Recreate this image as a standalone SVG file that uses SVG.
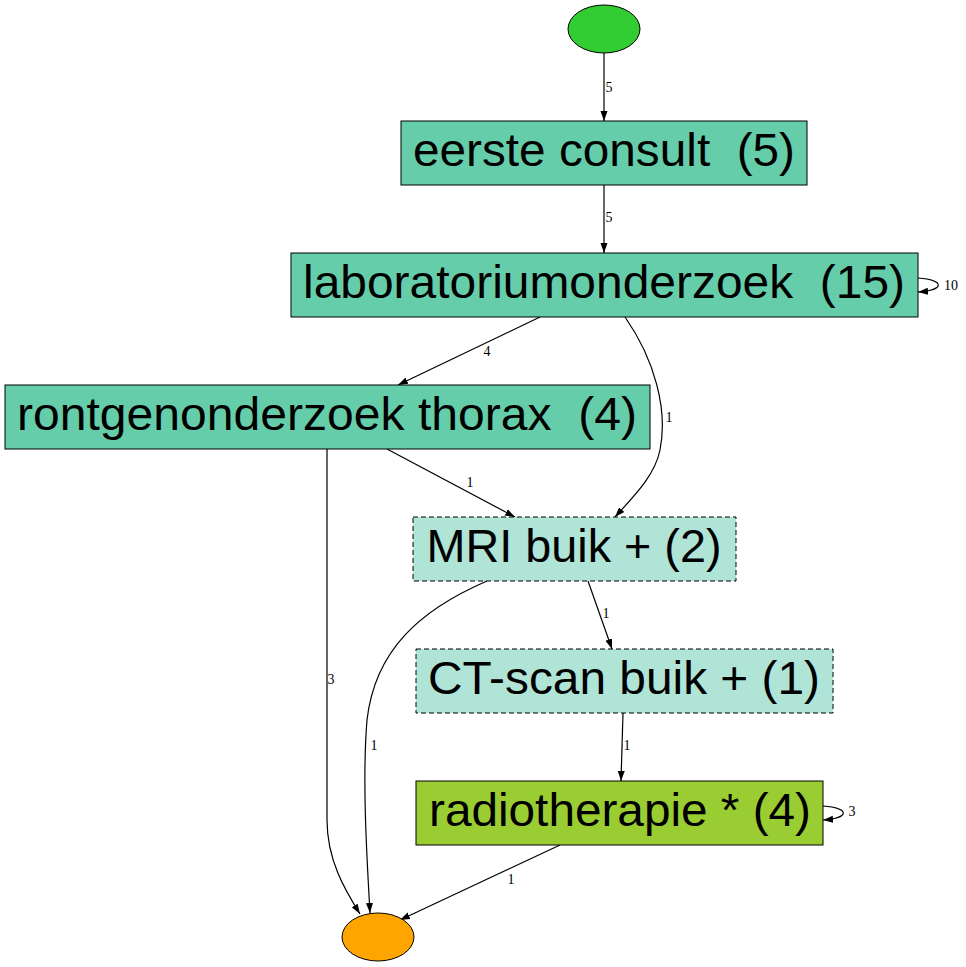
<svg xmlns="http://www.w3.org/2000/svg" width="966" height="967" viewBox="0 0 966 967">
<style>
.box{stroke:#000;stroke-width:1}
.t{font-family:"Liberation Sans",Arial,sans-serif;font-size:47px;fill:#000;text-anchor:middle;white-space:pre}
.l{font-family:"Liberation Serif","Times New Roman",serif;font-size:14px;fill:#000;text-anchor:middle}
.e{fill:none;stroke:#000;stroke-width:1.2}
.dash{stroke-dasharray:5,3}
</style>
<defs>
<marker id="a" viewBox="0 0 10 10" refX="10" refY="5" markerWidth="10" markerHeight="10" markerUnits="userSpaceOnUse" orient="auto">
<path d="M0,1.5 L10,5 L0,8.5 Z" fill="#000"/>
</marker>
</defs>
<rect width="966" height="967" fill="#fff"/>
<g id="connectors">
<path class="e" d="M604,53 L604,121" marker-end="url(#a)"/>
<text class="l" x="609" y="92">5</text>
<path class="e" d="M604,185 L604,253" marker-end="url(#a)"/>
<text class="l" x="609" y="222">5</text>
<path class="e" d="M918,278 C945,280 945,290 918,292" marker-end="url(#a)"/>
<text class="l" x="951" y="290">10</text>
<path class="e" d="M540,317 L398,385" marker-end="url(#a)"/>
<text class="l" x="487" y="356">4</text>
<path class="e" d="M625,317 C655,360 668,410 660,450 C655,475 635,495 615,517" marker-end="url(#a)"/>
<text class="l" x="669" y="422">1</text>
<path class="e" d="M387,449 L515,517" marker-end="url(#a)"/>
<text class="l" x="470" y="487">1</text>
<path class="e" d="M327,449 L327,820 C327,860 345,890 360,914" marker-end="url(#a)"/>
<text class="l" x="331" y="684">3</text>
<path class="e" d="M487,581 C420,610 375,650 367,720 C362,780 367,860 370,913" marker-end="url(#a)"/>
<text class="l" x="374" y="750">1</text>
<path class="e" d="M588,581 L612,649" marker-end="url(#a)"/>
<text class="l" x="606" y="618">1</text>
<path class="e" d="M623,713 L621,781" marker-end="url(#a)"/>
<text class="l" x="627" y="750">1</text>
<path class="e" d="M823,806 C850,808 850,818 823,820" marker-end="url(#a)"/>
<text class="l" x="852" y="816">3</text>
<path class="e" d="M560,845 L400,920" marker-end="url(#a)"/>
<text class="l" x="511" y="884">1</text>
</g>
<g id="start"><ellipse class="box" cx="604" cy="29" rx="36" ry="24" fill="#32cd32"/></g>
<g id="eerste"><rect class="box" x="401" y="121" width="406" height="64" fill="#66cdaa"/><text class="t" x="604" y="166" textLength="382" lengthAdjust="spacingAndGlyphs" xml:space="preserve">eerste consult  (5)</text></g>
<g id="lab"><rect class="box" x="291" y="253" width="627" height="64" fill="#66cdaa"/><text class="t" x="604" y="298" textLength="602" lengthAdjust="spacingAndGlyphs" xml:space="preserve">laboratoriumonderzoek  (15)</text></g>
<g id="rontgen"><rect class="box" x="5" y="385" width="645" height="64" fill="#66cdaa"/><text class="t" x="327" y="430" textLength="620" lengthAdjust="spacingAndGlyphs" xml:space="preserve">rontgenonderzoek thorax  (4)</text></g>
<g id="mri"><rect class="box dash" x="413" y="517" width="323" height="64" fill="#afe4d7"/><text class="t" x="574" y="562" textLength="295" lengthAdjust="spacingAndGlyphs">MRI buik + (2)</text></g>
<g id="ct"><rect class="box dash" x="416" y="649" width="417" height="64" fill="#afe4d7"/><text class="t" x="624" y="694" textLength="392" lengthAdjust="spacingAndGlyphs">CT-scan buik + (1)</text></g>
<g id="radio"><rect class="box" x="416" y="781" width="407" height="64" fill="#9acd32"/><text class="t" x="620" y="826" textLength="382" lengthAdjust="spacingAndGlyphs">radiotherapie * (4)</text></g>
<g id="end"><ellipse class="box" cx="378" cy="937" rx="36" ry="24" fill="#ffa500"/></g>
</svg>
